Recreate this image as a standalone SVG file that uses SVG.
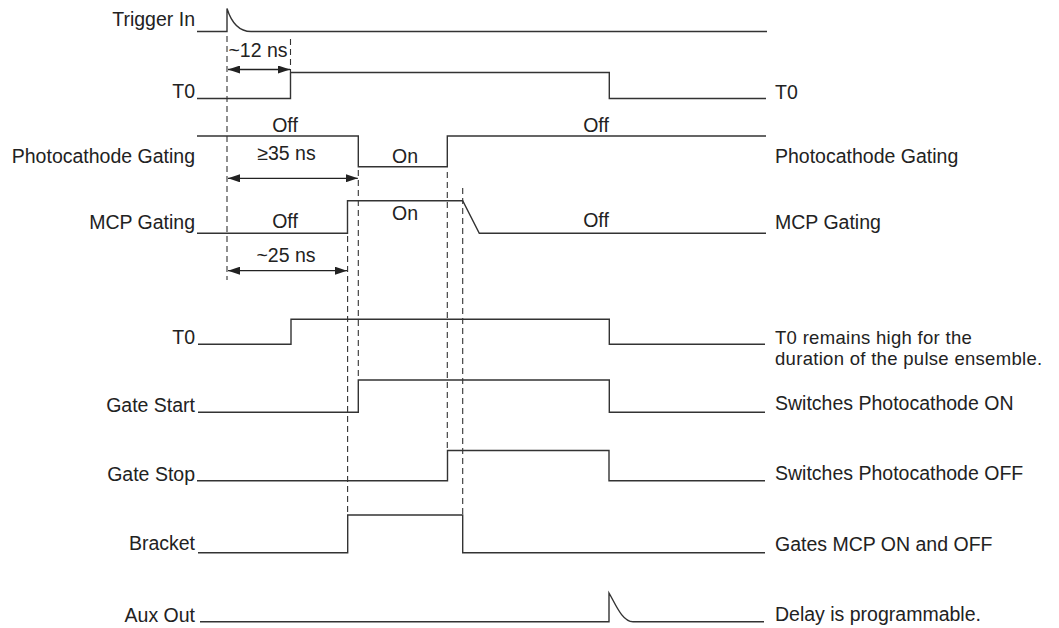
<svg xmlns="http://www.w3.org/2000/svg" width="1059" height="628" viewBox="0 0 1059 628">
<style>
.sig{fill:none;stroke:#333;stroke-width:1.4;stroke-linejoin:miter}
.dash{fill:none;stroke:#333;stroke-width:1.1;stroke-dasharray:6 4}
.dim{fill:none;stroke:#222;stroke-width:1.3}
text{font-family:"Liberation Sans",Arial,Helvetica,sans-serif;font-size:19.5px;fill:#222}
.l{text-anchor:end}
.m{text-anchor:middle}
.two{font-size:18.5px;letter-spacing:0.3px}
</style>
<defs>
<marker id="ah" viewBox="0 0 12 8" refX="12" refY="4" markerWidth="12" markerHeight="8" markerUnits="userSpaceOnUse" orient="auto-start-reverse">
<path d="M0,0 L12,4 L0,8 z" fill="#222"/>
</marker>
</defs>
<rect width="1059" height="628" fill="#fff"/>

<g id="trigger-in">
<path class="sig" d="M197,31.5 H227 V8.5 C230,18 236,31.5 251,31.5 H767"/>
<text class="l" x="195" y="26">Trigger In</text>
</g>

<g id="t0-top">
<path class="sig" d="M197,98.5 H290.5 V72.5 H609.3 V98.5 H766"/>
<text class="l" x="195" y="98">T0</text>
<text x="775" y="99">T0</text>
</g>

<g id="photocathode-gating">
<path class="sig" d="M197,136 H358.3 V166.7 H447.3 V136 H766"/>
<text class="l" x="195" y="163">Photocathode Gating</text>
<text x="775" y="163">Photocathode Gating</text>
<text class="m" x="285" y="131.5">Off</text>
<text class="m" x="405" y="162.5">On</text>
<text class="m" x="596" y="131.5">Off</text>
</g>

<g id="mcp-gating">
<path class="sig" d="M197,233.3 H347.5 V200.7 H462.7 L479.3,233.3 H766"/>
<text class="l" x="195" y="228.5">MCP Gating</text>
<text x="775" y="229">MCP Gating</text>
<text class="m" x="285" y="227.5">Off</text>
<text class="m" x="405" y="220">On</text>
<text class="m" x="596" y="227">Off</text>
</g>

<g id="t0-bottom">
<path class="sig" d="M198,344.3 H291 V319.3 H609.3 V344.3 H765"/>
<text class="l" x="195" y="343.5">T0</text>
<text class="two" x="775" y="343.5">T0 remains high for the</text>
<text class="two" x="775" y="365">duration of the pulse ensemble.</text>
</g>

<g id="gate-start">
<path class="sig" d="M198,412.3 H358.3 V380 H609.3 V412.3 H765"/>
<text class="l" x="195" y="411.5">Gate Start</text>
<text x="775" y="410">Switches Photocathode ON</text>
</g>

<g id="gate-stop">
<path class="sig" d="M197,480.7 H447.5 V450.5 H609 V480.7 H765"/>
<text class="l" x="195" y="481">Gate Stop</text>
<text x="775" y="480">Switches Photocathode OFF</text>
</g>

<g id="bracket">
<path class="sig" d="M198,552.7 H347.7 V515 H462.7 V552.7 H765"/>
<text class="l" x="195" y="550">Bracket</text>
<text x="775" y="551">Gates MCP ON and OFF</text>
</g>

<g id="aux-out">
<path class="sig" d="M200,621.7 H609 V593 C615,603 622,621.7 633,621.7 H764"/>
<text class="l" x="195" y="621.5">Aux Out</text>
<text x="775" y="621">Delay is programmable.</text>
</g>

<g id="connectors">
<line class="dash" x1="227" y1="36" x2="227" y2="280"/>
<line class="dash" x1="290.5" y1="39" x2="290.5" y2="72"/>
<line class="dash" x1="358.3" y1="170" x2="358.3" y2="380"/>
<line class="dash" x1="347.6" y1="236" x2="347.6" y2="515"/>
<line class="dash" x1="447.3" y1="172" x2="447.3" y2="450"/>
<line class="dash" x1="462.7" y1="188" x2="462.7" y2="515"/>
<line class="dim" x1="228" y1="69.5" x2="290" y2="69.5" marker-start="url(#ah)" marker-end="url(#ah)"/>
<line class="dim" x1="228" y1="178.3" x2="357.8" y2="178.3" marker-start="url(#ah)" marker-end="url(#ah)"/>
<line class="dim" x1="228" y1="270.7" x2="347" y2="270.7" marker-start="url(#ah)" marker-end="url(#ah)"/>
<text class="m" x="258" y="57">~12 ns</text>
<text class="m" x="286.5" y="160">≥35 ns</text>
<text class="m" x="286" y="262">~25 ns</text>
</g>
</svg>
